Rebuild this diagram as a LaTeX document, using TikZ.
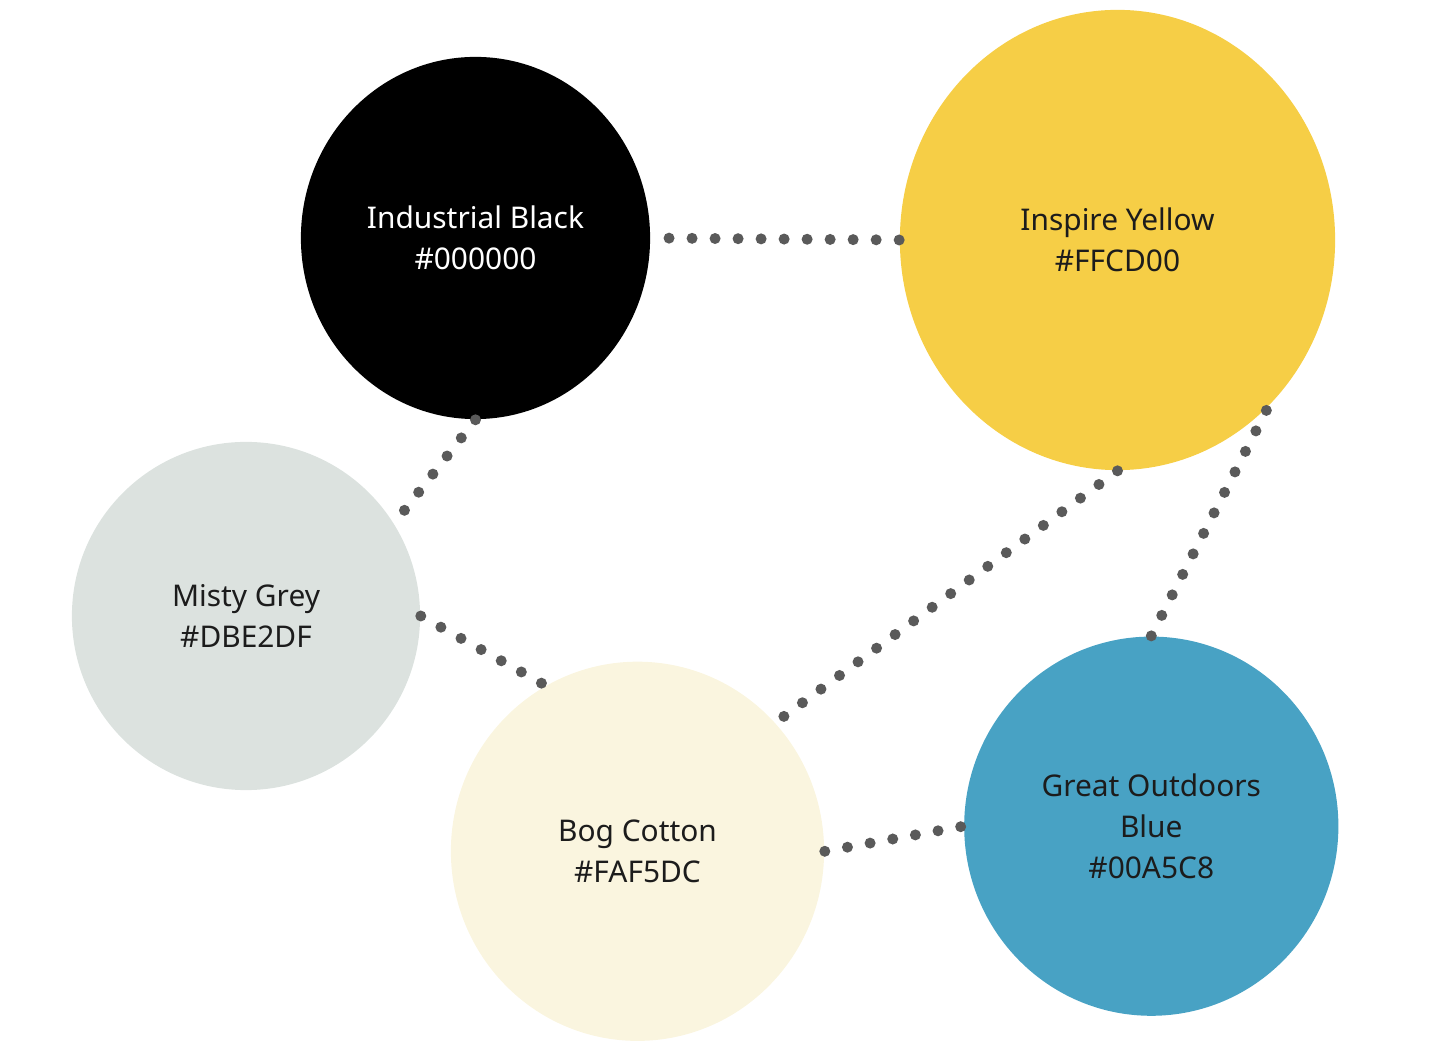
\documentclass[tikz,border=0pt]{standalone}
\usepackage{fontspec}
\setmainfont{Noto Sans}
\usepackage{xcolor}
\usepackage{tikz}
\usetikzlibrary{shapes.geometric}
\definecolor{swblack}{HTML}{000000}
\definecolor{swyellow}{HTML}{F6CE46}
\definecolor{swgrey}{HTML}{DCE2DF}
\definecolor{swcotton}{HTML}{FAF5DF}
\definecolor{swblue}{HTML}{48A2C4}
\definecolor{inkdot}{HTML}{5A5A5A}
\definecolor{inktext}{HTML}{1C1C1C}
\begin{document}
\begin{tikzpicture}[x=0.01cm, y=-0.01cm,
  swatch/.style={ellipse, inner sep=0pt, align=center, text=inktext,
    font=\fontsize{8.5pt}{11.67pt}\selectfont},
  link/.style={line width=0.11cm, line cap=round, color=inkdot,
    dash pattern=on 0pt off 0.23cm}]
  \useasboundingbox (0,0) rectangle (1450,1058);
  % circulos
  \node[swatch, fill=swblack, text=white, minimum width=3.49cm, minimum height=3.62cm]
    (black) at (475.5,238) {Industrial Black\\\#000000};
  \node[swatch, fill=swyellow, minimum width=4.35cm, minimum height=4.6cm]
    (yellow) at (1117.5,240) {Inspire Yellow\\\#FFCD00};
  \node[swatch, fill=swgrey, minimum width=3.48cm, minimum height=3.48cm]
    (grey) at (246,616) {Misty Grey\\\#DBE2DF};
  \node[swatch, fill=swcotton, minimum width=3.73cm, minimum height=3.79cm]
    (cotton) at (637.5,851.3) {Bog Cotton\\\#FAF5DC};
  \node[swatch, fill=swblue, minimum width=3.74cm, minimum height=3.79cm]
    (blue) at (1151.3,826.2) {Great Outdoors\\Blue\\\#00A5C8};
  % ligacoes
  \draw[link] (yellow.west) -- (black.east);
  \draw[link] (black.south) -- (grey.32);
  \draw[link] (grey.east) -- (cotton.119);
  \draw[link] (yellow.south) -- (cotton.43);
  \draw[link] (blue.north) -- (yellow.-48);
  \draw[link] (cotton.east) -- (blue.west);
\end{tikzpicture}
\end{document}
